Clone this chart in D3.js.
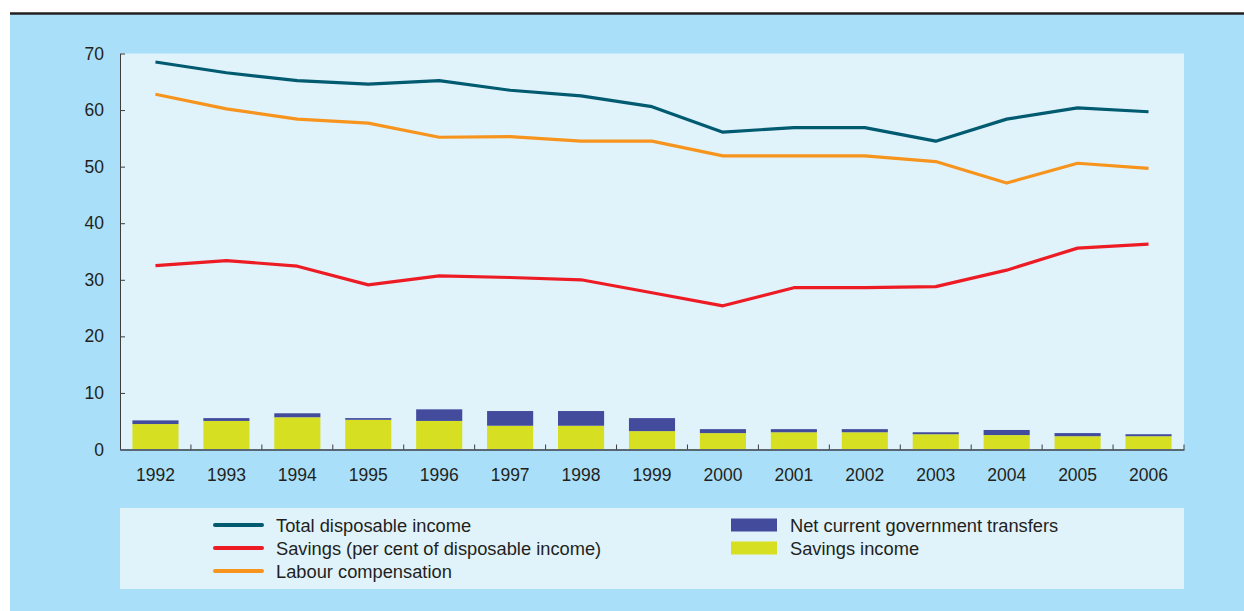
<!DOCTYPE html>
<html>
<head>
<meta charset="utf-8">
<script src="https://cdn.jsdelivr.net/npm/d3@7"></script>
<style>
  body { margin: 0; background: #fff; }
  svg { display: block; font-family: "Liberation Sans", Arial, sans-serif; }
</style>
</head>
<body>
<div id="chart"></div>
<script>
// data
var years = ["1992","1993","1994","1995","1996","1997","1998","1999","2000","2001","2002","2003","2004","2005","2006"];
var totalIncome = [68.5, 66.6, 65.2, 64.6, 65.2, 63.5, 62.5, 60.6, 56.1, 56.9, 56.9, 54.5, 58.4, 60.4, 59.7];
var labourComp  = [62.8, 60.2, 58.4, 57.7, 55.2, 55.3, 54.5, 54.5, 51.9, 51.9, 51.9, 50.9, 47.1, 50.6, 49.7];
var savingsRate = [32.5, 33.4, 32.4, 29.1, 30.7, 30.4, 30.0, 27.7, 25.4, 28.6, 28.6, 28.8, 31.7, 35.6, 36.3];
var savingsIncome = [4.5, 5.05, 5.7, 5.25, 5.05, 4.2, 4.2, 3.25, 2.9, 3.05, 3.05, 2.7, 2.55, 2.35, 2.35];
var govTransfers  = [0.65, 0.5, 0.7, 0.3, 2.05, 2.6, 2.6, 2.3, 0.7, 0.55, 0.55, 0.35, 0.9, 0.55, 0.35];
var yTicks = [0, 10, 20, 30, 40, 50, 60, 70];

var W = 1244, H = 611;
var plot = {left: 120, right: 1184, top: 53.5, bottom: 449.5};

var svg = d3.select("#chart").append("svg")
    .attr("width", W)
    .attr("height", H);

// backgrounds
svg.append("rect").attr("x", 10).attr("y", 14).attr("width", W - 10).attr("height", H - 14).attr("fill", "#aadff9");
svg.append("line").attr("x1", 10).attr("x2", W).attr("y1", 13.5).attr("y2", 13.5)
    .attr("stroke", "#231f20").attr("stroke-width", 2.5);
svg.append("rect").attr("x", plot.left).attr("y", plot.top)
    .attr("width", plot.right - plot.left).attr("height", plot.bottom - plot.top).attr("fill", "#e0f3fb");

var x = d3.scaleBand().domain(years).range([plot.left, plot.right]).padding(0);
var y = d3.scaleLinear().domain([0, 70]).range([plot.bottom, plot.top]);
var bw = x.bandwidth();

// stacked bars
var bars = svg.append("g");
years.forEach(function(yr, i) {
    var bx = x(yr) + bw * 0.175, w = bw * 0.65;
    bars.append("rect")
        .attr("x", bx).attr("width", w)
        .attr("y", y(savingsIncome[i])).attr("height", y(0) - y(savingsIncome[i]))
        .attr("fill", "#d7df23");
    bars.append("rect")
        .attr("x", bx).attr("width", w)
        .attr("y", y(savingsIncome[i] + govTransfers[i])).attr("height", y(savingsIncome[i]) - y(savingsIncome[i] + govTransfers[i]))
        .attr("fill", "#434b9c");
});

// lines
var line = d3.line()
    .x(function(d, i) { return x(years[i]) + bw / 2; })
    .y(function(d) { return y(d); });

[[totalIncome, "#005a70"], [labourComp, "#f7941d"], [savingsRate, "#ed1c24"]].forEach(function(s) {
    svg.append("path")
        .datum(s[0])
        .attr("fill", "none")
        .attr("stroke", s[1])
        .attr("stroke-width", 3.2)
        .attr("stroke-linejoin", "round")
        .attr("d", line);
});

// Y axis
var yAxis = svg.append("g")
    .attr("transform", "translate(" + plot.left + ",0)")
    .call(d3.axisLeft(y).tickValues(yTicks).tickSize(-5).tickSizeOuter(0).tickPadding(16));
yAxis.select(".domain").attr("stroke", "#3d3d3d");
yAxis.selectAll(".tick line").attr("stroke", "#3d3d3d");
yAxis.selectAll("text").attr("font-size", 17.5).attr("fill", "#231f20").attr("font-family", "Liberation Sans, Arial, sans-serif");

// X axis
var xAxis = svg.append("g")
    .attr("transform", "translate(0," + plot.bottom + ")")
    .call(d3.axisBottom(x).tickSize(0).tickPadding(19));
xAxis.select(".domain").attr("stroke", "#5a6875").attr("stroke-width", 2.2);
xAxis.selectAll("text").attr("font-size", 17.5).attr("fill", "#231f20").attr("font-family", "Liberation Sans, Arial, sans-serif");
var bounds = years.slice(1).map(function(d) { return x(d); }).concat([plot.right]);
xAxis.selectAll(".bound").data(bounds).enter().append("line")
    .attr("x1", function(d) { return d; }).attr("x2", function(d) { return d; })
    .attr("y1", 0).attr("y2", -5)
    .attr("stroke", "#3d3d3d");

// legend
svg.append("rect").attr("x", plot.left).attr("y", 508).attr("width", plot.right - plot.left).attr("height", 81).attr("fill", "#e0f3fb");
var lineLegend = [["Total disposable income", "#005a70"], ["Savings (per cent of disposable income)", "#ed1c24"], ["Labour compensation", "#f7941d"]];
var barLegend = [["Net current government transfers", "#434b9c"], ["Savings income", "#d7df23"]];
var lg = svg.append("g").attr("font-size", 18.3).attr("fill", "#231f20");
lineLegend.forEach(function(d, i) {
    var cy = 525 + i * 23;
    lg.append("line").attr("x1", 215).attr("x2", 262).attr("y1", cy).attr("y2", cy)
        .attr("stroke", d[1]).attr("stroke-width", 4).attr("stroke-linecap", "round");
    lg.append("text").attr("x", 276).attr("y", cy + 6.5).text(d[0]);
});
barLegend.forEach(function(d, i) {
    var cy = 525 + i * 23;
    lg.append("rect").attr("x", 731).attr("y", cy - 6.5).attr("width", 46).attr("height", 13).attr("fill", d[1]);
    lg.append("text").attr("x", 790).attr("y", cy + 6.5).text(d[0]);
});
</script>
</body>
</html>
